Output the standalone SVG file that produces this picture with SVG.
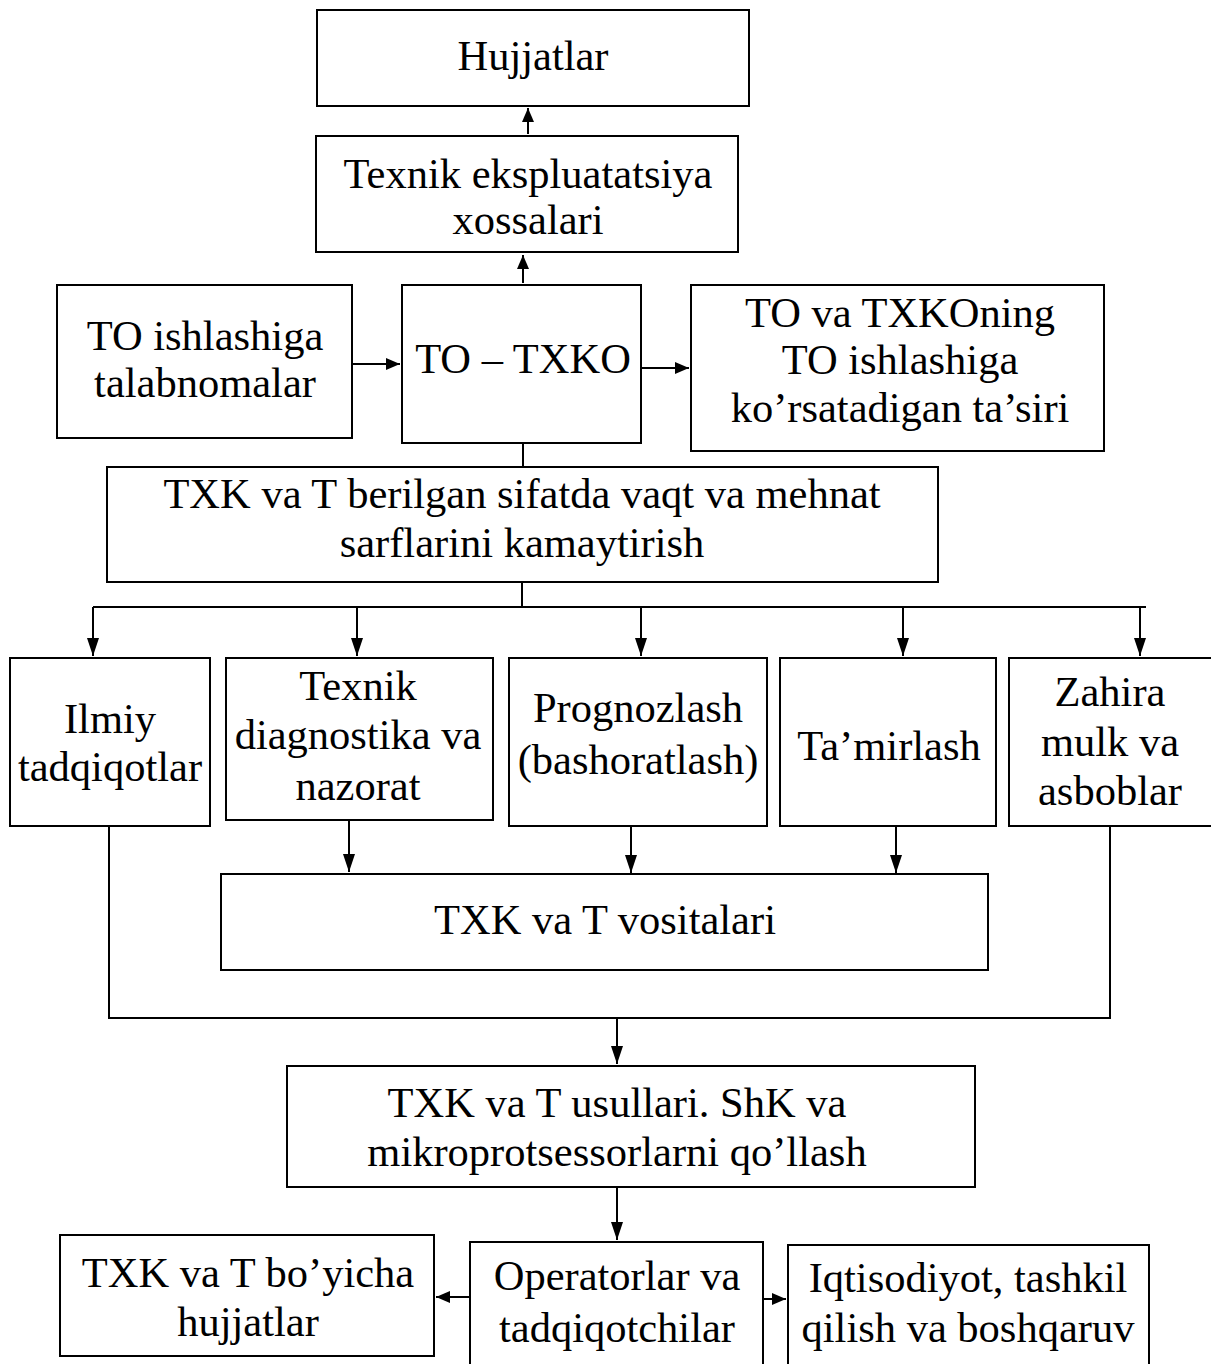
<svg xmlns="http://www.w3.org/2000/svg" width="1211" height="1364" viewBox="0 0 1211 1364">
<style>
.box{fill:#fff;stroke:#000;stroke-width:2}
.t{font-family:"Liberation Serif","Times New Roman",serif;font-size:42.5px;fill:#000;text-anchor:middle}
.c{fill:none;stroke:#000;stroke-width:2}
</style>
<defs>
<marker id="ah" viewBox="0 0 18 12" refX="18" refY="6" markerWidth="18" markerHeight="12" markerUnits="userSpaceOnUse" orient="auto">
<path d="M0,0 L18,6 L0,12 z" fill="#000"/>
</marker>
<marker id="ahs" viewBox="0 0 14 12" refX="14" refY="6" markerWidth="14" markerHeight="12" markerUnits="userSpaceOnUse" orient="auto">
<path d="M0,0 L14,6 L0,12 z" fill="#000"/>
</marker>
</defs>
<rect width="1211" height="1364" fill="#fff"/>

<g id="connectors">
<line class="c" x1="528" y1="134" x2="528" y2="108" marker-end="url(#ahs)"/>
<line class="c" x1="523" y1="283" x2="523" y2="255" marker-end="url(#ahs)"/>
<line class="c" x1="352" y1="364" x2="400" y2="364" marker-end="url(#ahs)"/>
<line class="c" x1="641" y1="368" x2="689" y2="368" marker-end="url(#ahs)"/>
<line class="c" x1="523" y1="443" x2="523" y2="467"/>
<line class="c" x1="522" y1="582" x2="522" y2="607"/>
<line class="c" x1="93" y1="607" x2="1146" y2="607"/>
<line class="c" x1="93" y1="607" x2="93" y2="656" marker-end="url(#ah)"/>
<line class="c" x1="357" y1="607" x2="357" y2="656" marker-end="url(#ah)"/>
<line class="c" x1="641" y1="607" x2="641" y2="656" marker-end="url(#ah)"/>
<line class="c" x1="903" y1="607" x2="903" y2="656" marker-end="url(#ah)"/>
<line class="c" x1="1140" y1="607" x2="1140" y2="656" marker-end="url(#ah)"/>
<line class="c" x1="349" y1="820" x2="349" y2="872" marker-end="url(#ah)"/>
<line class="c" x1="631" y1="826" x2="631" y2="873" marker-end="url(#ah)"/>
<line class="c" x1="896" y1="826" x2="896" y2="873" marker-end="url(#ah)"/>
<polyline class="c" points="109,826 109,1018 1110,1018 1110,826"/>
<line class="c" x1="617" y1="1018" x2="617" y2="1064" marker-end="url(#ah)"/>
<line class="c" x1="617" y1="1187" x2="617" y2="1240" marker-end="url(#ah)"/>
<line class="c" x1="470" y1="1297" x2="436" y2="1297" marker-end="url(#ahs)"/>
<line class="c" x1="763" y1="1299" x2="786" y2="1299" marker-end="url(#ahs)"/>
</g>

<g id="n-hujjatlar"><rect class="box" x="317" y="10" width="432" height="96"/><text class="t" x="533" y="70">Hujjatlar</text></g>
<g id="n-texnik-eksp"><rect class="box" x="316" y="136" width="422" height="116"/><text class="t" x="528" y="188">Texnik ekspluatatsiya</text><text class="t" x="528" y="234">xossalari</text></g>
<g id="n-talabnomalar"><rect class="box" x="57" y="285" width="295" height="153"/><text class="t" x="205" y="350">TO ishlashiga</text><text class="t" x="205" y="397">talabnomalar</text></g>
<g id="n-to-txko"><rect class="box" x="402" y="285" width="239" height="158"/><text class="t" x="523" y="373">TO – TXKO</text></g>
<g id="n-tasiri"><rect class="box" x="691" y="285" width="413" height="166"/><text class="t" x="900" y="327">TO va TXKOning</text><text class="t" x="900" y="374">TO ishlashiga</text><text class="t" x="900" y="422">ko’rsatadigan ta’siri</text></g>
<g id="n-kamaytirish"><rect class="box" x="107" y="467" width="831" height="115"/><text class="t" x="522" y="508">TXK va T berilgan sifatda vaqt va mehnat</text><text class="t" x="522" y="557">sarflarini kamaytirish</text></g>
<g id="n-ilmiy"><rect class="box" x="10" y="658" width="200" height="168"/><text class="t" x="110" y="733">Ilmiy</text><text class="t" x="110" y="781">tadqiqotlar</text></g>
<g id="n-diagnostika"><rect class="box" x="226" y="658" width="267" height="162"/><text class="t" x="358" y="700">Texnik</text><text class="t" x="358" y="749">diagnostika va</text><text class="t" x="358" y="800">nazorat</text></g>
<g id="n-prognozlash"><rect class="box" x="509" y="658" width="258" height="168"/><text class="t" x="638" y="722">Prognozlash</text><text class="t" x="638" y="774">(bashoratlash)</text></g>
<g id="n-tamirlash"><rect class="box" x="780" y="658" width="216" height="168"/><text class="t" x="889" y="760">Ta’mirlash</text></g>
<g id="n-zahira"><rect class="box" x="1009" y="658" width="205" height="168"/><text class="t" x="1110" y="706">Zahira</text><text class="t" x="1110" y="756">mulk va</text><text class="t" x="1110" y="805">asboblar</text></g>
<g id="n-vositalari"><rect class="box" x="221" y="874" width="767" height="96"/><text class="t" x="605" y="934">TXK va T vositalari</text></g>
<g id="n-usullari"><rect class="box" x="287" y="1066" width="688" height="121"/><text class="t" x="617" y="1117">TXK va T usullari. ShK va</text><text class="t" x="617" y="1166">mikroprotsessorlarni qo’llash</text></g>
<g id="n-boyicha"><rect class="box" x="60" y="1235" width="374" height="121"/><text class="t" x="248" y="1287">TXK va T bo’yicha</text><text class="t" x="248" y="1336">hujjatlar</text></g>
<g id="n-operatorlar"><rect class="box" x="470" y="1242" width="293" height="130"/><text class="t" x="617" y="1290">Operatorlar va</text><text class="t" x="617" y="1342">tadqiqotchilar</text></g>
<g id="n-iqtisodiyot"><rect class="box" x="788" y="1245" width="361" height="127"/><text class="t" x="968" y="1292">Iqtisodiyot, tashkil</text><text class="t" x="968" y="1342">qilish va boshqaruv</text></g>
</svg>
